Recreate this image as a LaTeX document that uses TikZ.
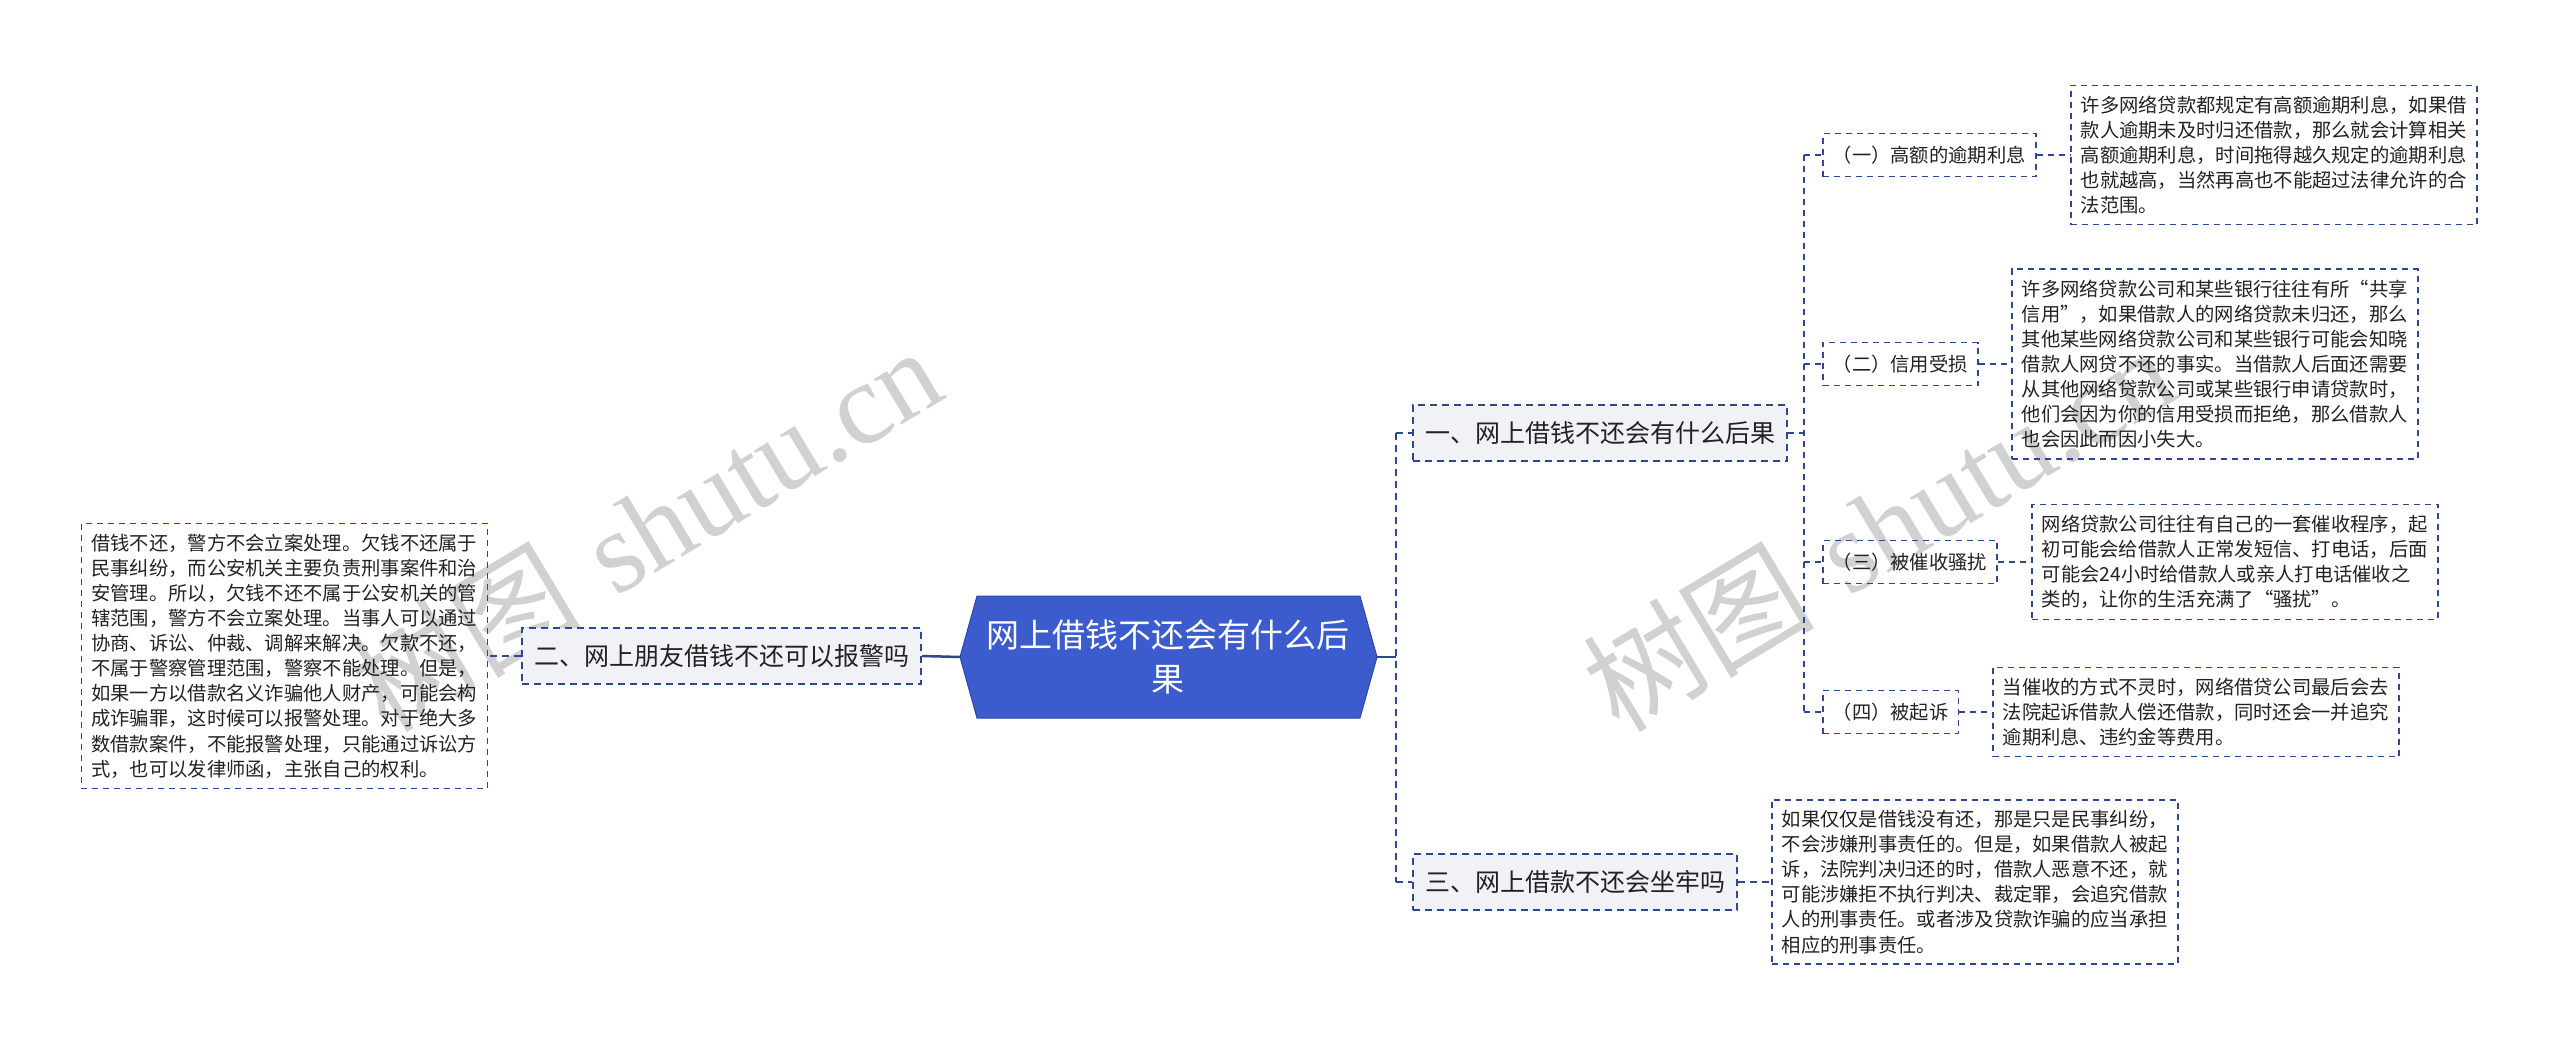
\documentclass[tikz,border=0pt]{standalone}
\usepackage{fontspec}
\newfontfamily\cjk{Noto Sans CJK SC}
\newfontfamily\wmlatin{Liberation Serif}
\definecolor{navy}{RGB}{45,72,145}
\definecolor{lvfill}{RGB}{240,242,246}
\definecolor{rootblue}{RGB}{60,92,205}
\definecolor{rootedge}{RGB}{45,70,170}
\definecolor{txt}{RGB}{34,34,34}
\begin{document}
\begin{tikzpicture}[x=1pt,y=-1pt,
  every node/.style={font=\cjk, text=txt},
  lvlone/.style={draw=navy, line width=2pt, dash pattern=on 7pt off 5pt, fill=lvfill,
    inner xsep=12pt, inner ysep=0pt, minimum height=56pt,
    font=\cjk\fontsize{25}{30}\selectfont},
  lvltwo/.style={draw=navy, line width=1.5pt, dash pattern=on 6pt off 5pt,
    inner xsep=10pt, inner ysep=0pt, minimum height=43pt,
    font=\cjk\fontsize{19.3}{25}\selectfont},
  detail/.style={draw=navy, line width=1.5pt, dash pattern=on 6pt off 5pt,
    inner xsep=10pt, inner ysep=10.5pt, align=left, text width=386pt,
    font=\cjk\fontsize{19.3}{25.1}\selectfont},
  thickdash/.style={draw=navy, line width=2.5pt, dash pattern=on 7pt off 5pt},
  thindash/.style={draw=navy, line width=1.5pt, dash pattern=on 6pt off 5pt},
  solidconn/.style={draw=navy, line width=2.5pt},
  watermark/.style={rotate=31, text=black!18, font=\fontsize{116}{116}\selectfont}
]
\useasboundingbox (0,0) rectangle (2560,1049);
\fill[white] (0,0) rectangle (2560,1049);

% watermarks
\node[watermark] (wm1) at (645,528) {{\cjk 树图} {\wmlatin shutu.cn}};
\node[watermark] (wm2) at (1878,528) {{\cjk 树图} {\wmlatin shutu.cn}};

% root hexagon
\coordinate (rootW) at (960,657);
\coordinate (rootE) at (1377,657);
\coordinate (rootTL) at (977,596);
\coordinate (rootTR) at (1360,596);
\coordinate (rootBL) at (977,718);
\coordinate (rootBR) at (1360,718);
\filldraw[fill=rootblue, draw=rootedge, line width=1pt]
  (rootW) -- (rootTL) -- (rootTR) -- (rootE) -- (rootBR) -- (rootBL) -- cycle;
\node[align=center, text=white, font=\cjk\fontsize{33}{44}\selectfont] (root) at (1168,657)
  {网上借钱不还会有什么后\\果};

% level one
\node[lvlone, anchor=west] (l1) at (1412,433) {一、网上借钱不还会有什么后果};
\node[lvlone, anchor=east] (l2) at (922,656) {二、网上朋友借钱不还可以报警吗};
\node[lvlone, anchor=west] (l3) at (1412,882) {三、网上借款不还会坐牢吗};

% level two
\node[lvltwo, anchor=west] (s1) at (1822,155) {（一）高额的逾期利息};
\node[lvltwo, anchor=west] (s2) at (1822,364) {（二）信用受损};
\node[lvltwo, anchor=west] (s3) at (1822,562) {（三）被催收骚扰};
\node[lvltwo, anchor=west] (s4) at (1822,712) {（四）被起诉};

% details
\node[detail, anchor=west] (d1) at (2070,155) {许多网络贷款都规定有高额逾期利息，如果借\\款人逾期未及时归还借款，那么就会计算相关\\高额逾期利息，时间拖得越久规定的逾期利息\\也就越高，当然再高也不能超过法律允许的合\\法范围。};
\node[detail, anchor=west] (d2) at (2011,364) {许多网络贷款公司和某些银行往往有所“共享\\信用”，如果借款人的网络贷款未归还，那么\\其他某些网络贷款公司和某些银行可能会知晓\\借款人网贷不还的事实。当借款人后面还需要\\从其他网络贷款公司或某些银行申请贷款时，\\他们会因为你的信用受损而拒绝，那么借款人\\也会因此而因小失大。};
\node[detail, anchor=west] (d3) at (2031,562) {网络贷款公司往往有自己的一套催收程序，起\\初可能会给借款人正常发短信、打电话，后面\\可能会24小时给借款人或亲人打电话催收之\\类的，让你的生活充满了“骚扰”。};
\node[detail, anchor=west] (d4) at (1992,712) {当催收的方式不灵时，网络借贷公司最后会去\\法院起诉借款人偿还借款，同时还会一并追究\\逾期利息、违约金等费用。};
\node[detail, anchor=west] (d5) at (1771,882) {如果仅仅是借钱没有还，那是只是民事纠纷，\\不会涉嫌刑事责任的。但是，如果借款人被起\\诉，法院判决归还的时，借款人恶意不还，就\\可能涉嫌拒不执行判决、裁定罪，会追究借款\\人的刑事责任。或者涉及贷款诈骗的应当承担\\相应的刑事责任。};
\node[detail, anchor=east] (d6) at (488,656) {借钱不还，警方不会立案处理。欠钱不还属于\\民事纠纷，而公安机关主要负责刑事案件和治\\安管理。所以，欠钱不还不属于公安机关的管\\辖范围，警方不会立案处理。当事人可以通过\\协商、诉讼、仲裁、调解来解决。欠款不还，\\不属于警察管理范围，警察不能处理。但是，\\如果一方以借款名义诈骗他人财产，可能会构\\成诈骗罪，这时候可以报警处理。对于绝大多\\数借款案件，不能报警处理，只能通过诉讼方\\式，也可以发律师函，主张自己的权利。};

% connectors right of root
\coordinate (sp1) at (1396,657);
\draw[solidconn] (rootE) -- (sp1);
\draw[thickdash] (sp1 |- l1.west) -- (sp1 |- l3.west);
\draw[thickdash] (sp1 |- l1.west) -- (l1.west);
\draw[thickdash] (sp1 |- l3.west) -- (l3.west);
\draw[thickdash] (l3.east) -- (d5.west);

% connectors left of root
\draw[solidconn] (rootW) -- (l2.east);
\draw[thickdash] (l2.west) -- (d6.east);

% second spine
\coordinate (sp2) at (1804,433);
\draw[thindash] (l1.east) -- (sp2);
\draw[thindash] (sp2 |- s1.west) -- (sp2 |- s4.west);
\foreach \s in {s1,s2,s3,s4} {
  \draw[thindash] (sp2 |- \s.west) -- (\s.west);
}
\draw[thindash] (s1.east) -- (d1.west);
\draw[thindash] (s2.east) -- (d2.west);
\draw[thindash] (s3.east) -- (d3.west);
\draw[thindash] (s4.east) -- (d4.west);
\end{tikzpicture}
\end{document}
